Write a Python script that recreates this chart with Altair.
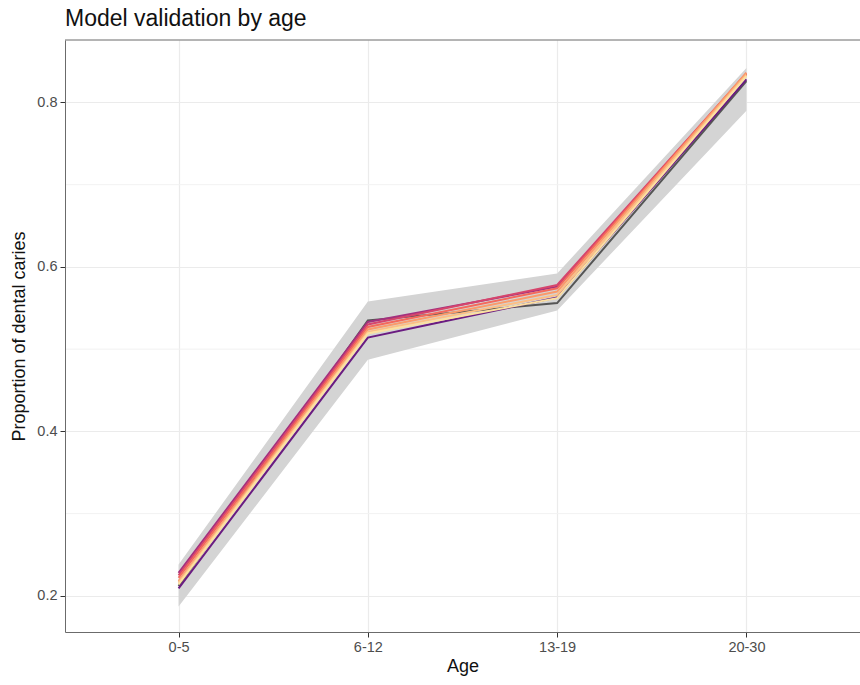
import altair as alt
import pandas as pd

ages = ["0-5", "6-12", "13-19", "20-30"]

ribbon_lo = [0.187, 0.487, 0.547, 0.790]
ribbon_hi = [0.238, 0.558, 0.592, 0.842]

series_names = ["s1", "s2", "s3", "s4", "s5", "s6", "s7", "s8"]
series_colors = ["#555555", "#6A1C81", "#A3307E", "#D6456C", "#F4695C", "#FB9A6A", "#FDBE84", "#FCE0A0"]
series_vals = {
    "s1": [0.212, 0.535, 0.556, 0.826],
    "s2": [0.209, 0.514, 0.563, 0.828],
    "s3": [0.228, 0.533, 0.576, 0.834],
    "s4": [0.225, 0.530, 0.578, 0.835],
    "s5": [0.222, 0.527, 0.574, 0.836],
    "s6": [0.218, 0.524, 0.570, 0.836],
    "s7": [0.216, 0.521, 0.566, 0.834],
    "s8": [0.214, 0.519, 0.562, 0.832],
}

major_y = [0.2, 0.4, 0.6, 0.8]
minor_y = [0.3, 0.5, 0.7]

ribbon_df = pd.DataFrame({"age": ages, "lo": ribbon_lo, "hi": ribbon_hi})
rows = []
for i, s in enumerate(series_names):
    for a, v in zip(ages, series_vals[s]):
        rows.append({"age": a, "series": s, "value": v, "ord": i})
lines_df = pd.DataFrame(rows)
minor_df = pd.DataFrame({"y": minor_y})

FONT = "Liberation Sans"
W, H = 795, 592

xscale = alt.Scale(type="point", padding=0.6, domain=ages)
yscale = alt.Scale(domain=[0.156, 0.876], nice=False, zero=False)

xenc = alt.X("age:N", sort=ages, scale=xscale,
             axis=alt.Axis(title="Age", labelAngle=0, grid=True))

minor = alt.Chart(minor_df).mark_rule(color="#F2F2F2", strokeWidth=1).encode(
    y=alt.Y("y:Q", scale=yscale),
    x=alt.value(1), x2=alt.value(W),
)

ribbon = alt.Chart(ribbon_df).mark_area(color="#D4D4D4", opacity=1).encode(
    x=xenc,
    y=alt.Y("lo:Q", scale=yscale,
            axis=alt.Axis(title="Proportion of dental caries", values=major_y, format=".1f", grid=True)),
    y2="hi:Q",
)

lines = alt.Chart(lines_df).mark_line(strokeWidth=2).encode(
    x=alt.X("age:N", sort=ages, scale=xscale),
    y=alt.Y("value:Q", scale=yscale),
    color=alt.Color("series:N", scale=alt.Scale(domain=series_names, range=series_colors), legend=None),
    order=alt.Order("ord:Q"),
)

top = alt.Chart(minor_df.head(1)).mark_rule(color="#6b6b6b", strokeWidth=1).encode(
    x=alt.value(0), x2=alt.value(W), y=alt.value(0)
)

chart = alt.layer(minor, ribbon, lines, top).properties(
    width=W, height=H,
    title=alt.TitleParams("Model validation by age", anchor="start", frame="group", fontSize=23, font=FONT,
                          fontWeight="normal", color="#111111", offset=9),
    autosize=alt.AutoSizeParams(type="none"),
    padding={"left": 65, "top": 40, "right": 0, "bottom": 53},
).configure_view(stroke=None).configure_axis(
    domainColor="#6b6b6b", domainWidth=1,
    gridColor="#EBEBEB", gridWidth=1.2,
    tickColor="#333333", tickSize=5, tickWidth=1,
    labelColor="#4D4D4D", labelFontSize=14.5, labelFont=FONT, labelPadding=3,
    titleColor="#111111", titleFontSize=18, titleFont=FONT, titleFontWeight="normal",
).configure_axisX(titlePadding=4).configure_axisY(titlePadding=8)

chart.save("out.html", embed_options={"renderer": "svg", "actions": False})
